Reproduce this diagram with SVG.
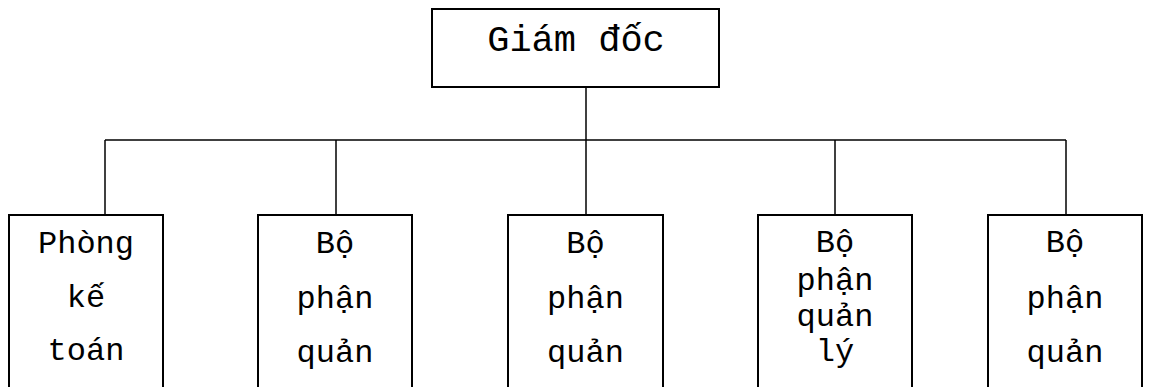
<svg xmlns="http://www.w3.org/2000/svg" width="1150" height="387" viewBox="0 0 1150 387">
  <style>
    .box { fill: #ffffff; stroke: #000000; stroke-width: 2; }
    .wire { fill: none; stroke: #000000; stroke-width: 1.5; }
    .lbl { font-family: "Liberation Mono", "Courier New", monospace; fill: #000000; text-anchor: middle; }
    .top { font-size: 37px; }
    .sub { font-size: 32px; }
  </style>
  <rect width="1150" height="387" fill="#ffffff"/>

  <!-- connectors -->
  <g id="connectors">
    <path class="wire" d="M586 87 V140"/>
    <path class="wire" d="M105 140 H1066"/>
    <path class="wire" d="M105 140 V215"/>
    <path class="wire" d="M336 140 V215"/>
    <path class="wire" d="M586 140 V215"/>
    <path class="wire" d="M835 140 V215"/>
    <path class="wire" d="M1066 140 V215"/>
  </g>

  <g id="giam-doc">
    <rect class="box" x="432" y="9" width="287" height="78"/>
    <text class="lbl top" x="576" y="51">Giám đốc</text>
  </g>

  <g id="phong-ke-toan">
    <rect class="box" x="9" y="215" width="154" height="190"/>
    <text class="lbl sub" x="86" y="253">Phòng</text>
    <text class="lbl sub" x="86" y="307">kế</text>
    <text class="lbl sub" x="86" y="360">toán</text>
  </g>

  <g id="bo-phan-2">
    <rect class="box" x="258" y="215" width="154" height="190"/>
    <text class="lbl sub" x="335" y="253">Bộ</text>
    <text class="lbl sub" x="335" y="308">phận</text>
    <text class="lbl sub" x="335" y="362">quản</text>
  </g>

  <g id="bo-phan-3">
    <rect class="box" x="508" y="215" width="155" height="190"/>
    <text class="lbl sub" x="585.5" y="253">Bộ</text>
    <text class="lbl sub" x="585.5" y="308">phận</text>
    <text class="lbl sub" x="585.5" y="362">quản</text>
  </g>

  <g id="bo-phan-quan-ly">
    <rect class="box" x="758" y="215" width="154" height="190"/>
    <text class="lbl sub" x="835" y="252">Bộ</text>
    <text class="lbl sub" x="835" y="290">phận</text>
    <text class="lbl sub" x="835" y="326">quản</text>
    <text class="lbl sub" x="835" y="361">lý</text>
  </g>

  <g id="bo-phan-5">
    <rect class="box" x="988" y="215" width="154" height="190"/>
    <text class="lbl sub" x="1065" y="252">Bộ</text>
    <text class="lbl sub" x="1065" y="308">phận</text>
    <text class="lbl sub" x="1065" y="362">quản</text>
  </g>
</svg>
